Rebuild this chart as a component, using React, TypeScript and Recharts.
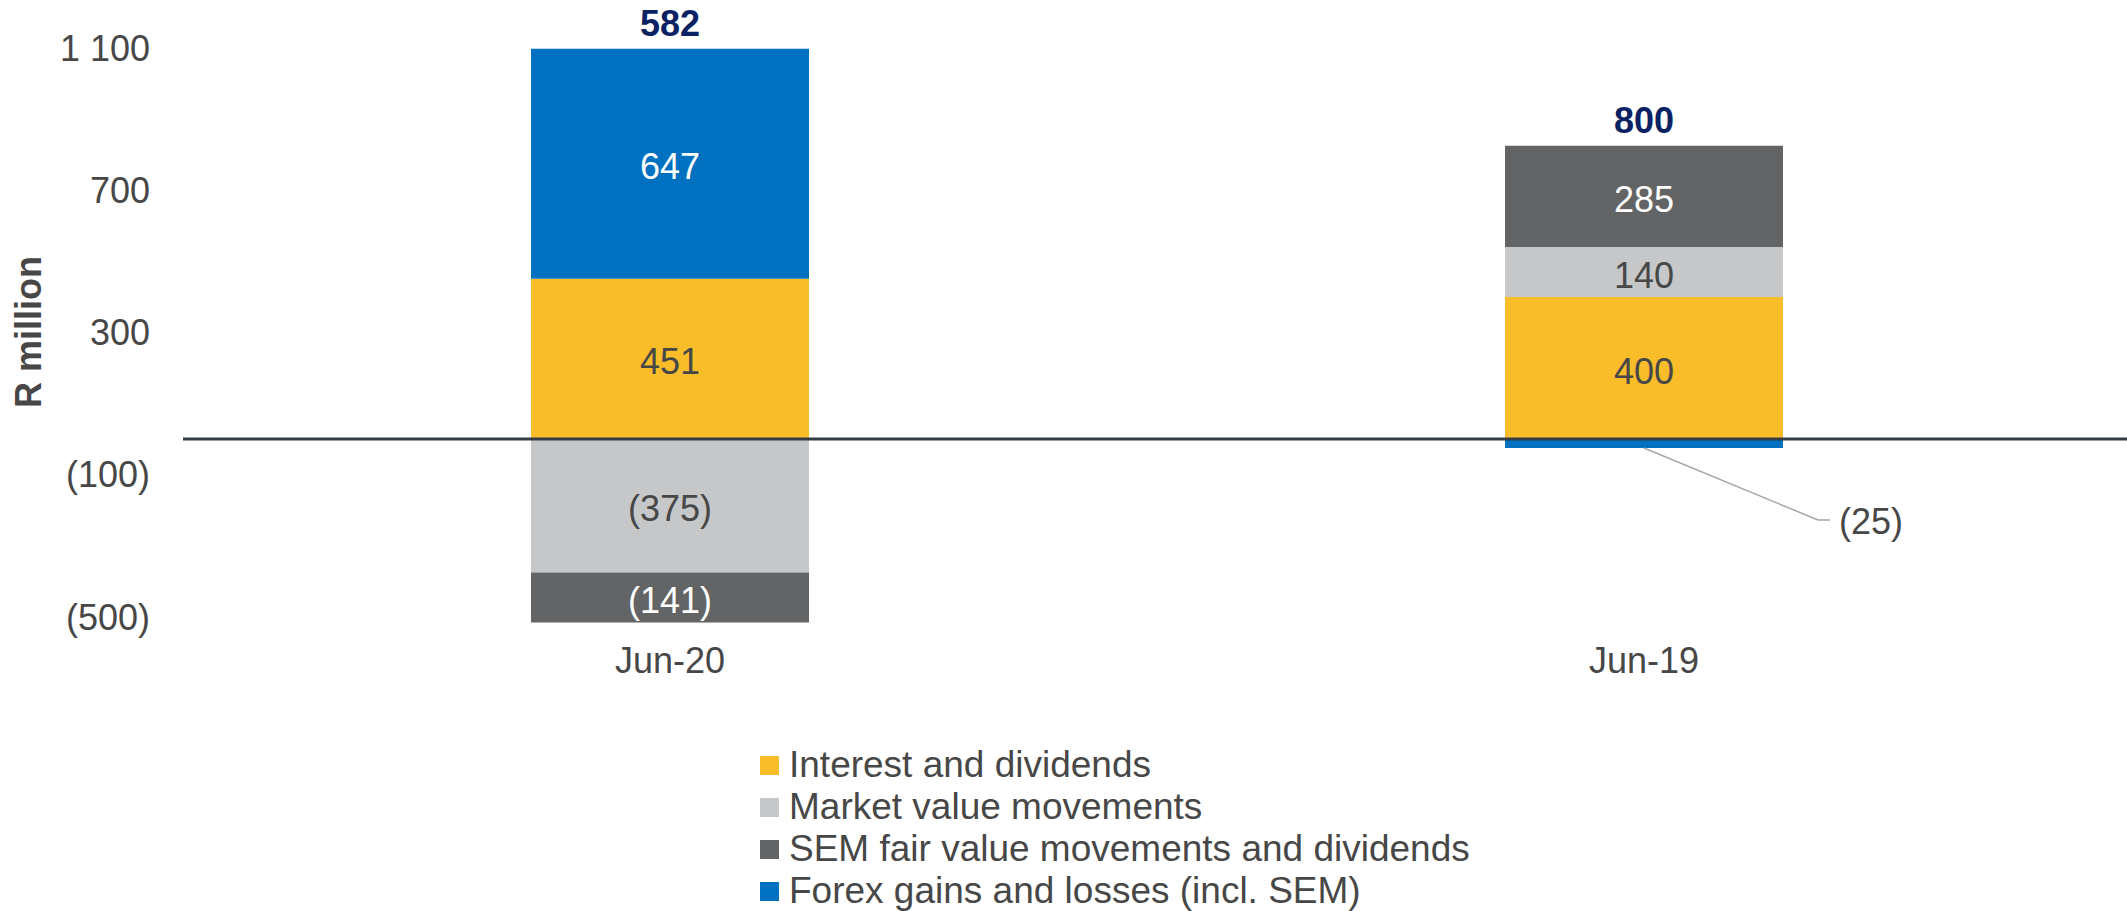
import React from 'react';
import {
  ComposedChart,
  Bar,
  Line,
  XAxis,
  YAxis,
  ReferenceLine,
  Legend,
  LabelList,
  Label,
} from 'recharts';

const categories = ['Jun-20', 'Jun-19'];
const interestDividends = [451, 400];
const marketValueMovements = [-375, 140];
const semFairValue = [-141, 285];
const forexGains = [647, -25];
const yTicks = [-500, -100, 300, 700, 1100];

const seriesNames = [
  'Interest and dividends',
  'Market value movements',
  'SEM fair value movements and dividends',
  'Forex gains and losses (incl. SEM)',
];

const FONT = '"Liberation Sans", Arial, sans-serif';
const TEXT = '#474747';
const NAVY = '#0a2263';

const data = categories.map((name, i) => {
  const vals = [interestDividends[i], marketValueMovements[i], semFairValue[i], forexGains[i]];
  return {
    name,
    interest: interestDividends[i],
    market: marketValueMovements[i],
    sem: semFairValue[i],
    forex: forexGains[i],
    total: vals.reduce((a, b) => a + b, 0),
    posTop: vals.filter((v) => v > 0).reduce((a, b) => a + b, 0),
  };
});

const fmt = (v: number) => {
  const s = String(Math.abs(v)).replace(/\B(?=(\d{3})+(?!\d))/g, ' ');
  return v < 0 ? `(${s})` : s;
};

// centred value inside a segment; tiny segments get a leader line out to the right
const segLabel = (color: string) => (props: any) => {
  const { x, y, width, height, value } = props;
  if (value == null) return null;
  const cx = x + width / 2;
  if (Math.abs(height) < 20) {
    const bottom = Math.max(y, y + height);
    return (
      <g>
        <polyline
          points={`${cx},${bottom} ${cx + 174},${bottom + 72} ${cx + 186},${bottom + 72}`}
          fill="none"
          stroke="#a6a6a6"
          strokeWidth={1.5}
        />
        <text x={cx + 195} y={bottom + 73} fill={TEXT} fontSize={36} fontFamily={FONT} dominantBaseline="central">
          {fmt(value)}
        </text>
      </g>
    );
  }
  return (
    <text x={cx} y={y + height / 2 + 3} fill={color} fontSize={36} fontFamily={FONT} textAnchor="middle" dominantBaseline="central">
      {fmt(value)}
    </text>
  );
};

const totalLabel = (props: any) => {
  const { x, y, value } = props;
  return (
    <text x={x} y={y - 13} fill={NAVY} fontSize={36} fontWeight="bold" fontFamily={FONT} textAnchor="middle">
      {fmt(value)}
    </text>
  );
};

const renderYLabel = (props: any) => {
  const { viewBox } = props;
  const cx = 28;
  const cy = viewBox.y + viewBox.height / 2 - 4;
  return (
    <text
      x={cx}
      y={cy}
      transform={`rotate(-90, ${cx}, ${cy})`}
      fill={TEXT}
      fontSize={36}
      fontWeight="bold"
      fontFamily={FONT}
      textAnchor="middle"
      dominantBaseline="central"
    >
      R million
    </text>
  );
};

const renderLegend = (props: any) => {
  const items = (props.payload || [])
    .filter((p: any) => seriesNames.includes(p.value))
    .sort((a: any, b: any) => seriesNames.indexOf(a.value) - seriesNames.indexOf(b.value));
  return (
    <div>
      {items.map((p: any) => (
        <div key={p.value} style={{ display: 'flex', alignItems: 'center', height: 42 }}>
          <span style={{ width: 19, height: 19, background: p.color, marginRight: 10, flex: 'none' }} />
          <span style={{ fontSize: 37, lineHeight: '42px', color: TEXT, fontFamily: FONT, whiteSpace: 'nowrap' }}>
            {p.value}
          </span>
        </div>
      ))}
    </div>
  );
};

export default function App() {
  return (
    <div style={{ position: 'absolute', left: 0, top: 0, width: 2127, height: 911, background: '#fff', overflow: 'hidden' }}>
      <ComposedChart
        width={2127}
        height={911}
        data={data}
        stackOffset="sign"
        margin={{ top: 48, right: -4, left: 0, bottom: 227 }}
      >
        <XAxis
          dataKey="name"
          axisLine={false}
          tickLine={false}
          tickSize={0}
          tickMargin={23}
          height={60}
          tick={{ fontSize: 36, fill: TEXT, fontFamily: FONT }}
        />
        <YAxis
          domain={[-520, 1100]}
          ticks={yTicks}
          interval={0}
          width={183}
          axisLine={false}
          tickLine={false}
          tickSize={0}
          tickMargin={33}
          tickFormatter={fmt}
          tick={{ fontSize: 36, fill: TEXT, fontFamily: FONT }}
        >
          <Label content={renderYLabel} />
        </YAxis>
        <Bar dataKey="interest" name={seriesNames[0]} stackId="a" fill="#f9bd2a" barSize={278} isAnimationActive={false}>
          <LabelList dataKey="interest" content={segLabel(TEXT)} />
        </Bar>
        <Bar dataKey="market" name={seriesNames[1]} stackId="a" fill="#c6c7c8" barSize={278} isAnimationActive={false}>
          <LabelList dataKey="market" content={segLabel(TEXT)} />
        </Bar>
        <Bar dataKey="sem" name={seriesNames[2]} stackId="a" fill="#636466" barSize={278} isAnimationActive={false}>
          <LabelList dataKey="sem" content={segLabel('#ffffff')} />
        </Bar>
        <Bar dataKey="forex" name={seriesNames[3]} stackId="a" fill="#0070c0" barSize={278} isAnimationActive={false}>
          <LabelList dataKey="forex" content={segLabel('#ffffff')} />
        </Bar>
        <ReferenceLine y={0} stroke="#333d43" strokeWidth={3} />
        <Line
          dataKey="posTop"
          stroke="none"
          dot={false}
          activeDot={false}
          legendType="none"
          isAnimationActive={false}
        >
          <LabelList dataKey="total" content={totalLabel} />
        </Line>
        <Legend
          layout="vertical"
          align="center"
          verticalAlign="middle"
          content={renderLegend}
          wrapperStyle={{ left: 760, top: 744, width: 'auto' }}
        />
      </ComposedChart>
    </div>
  );
}
